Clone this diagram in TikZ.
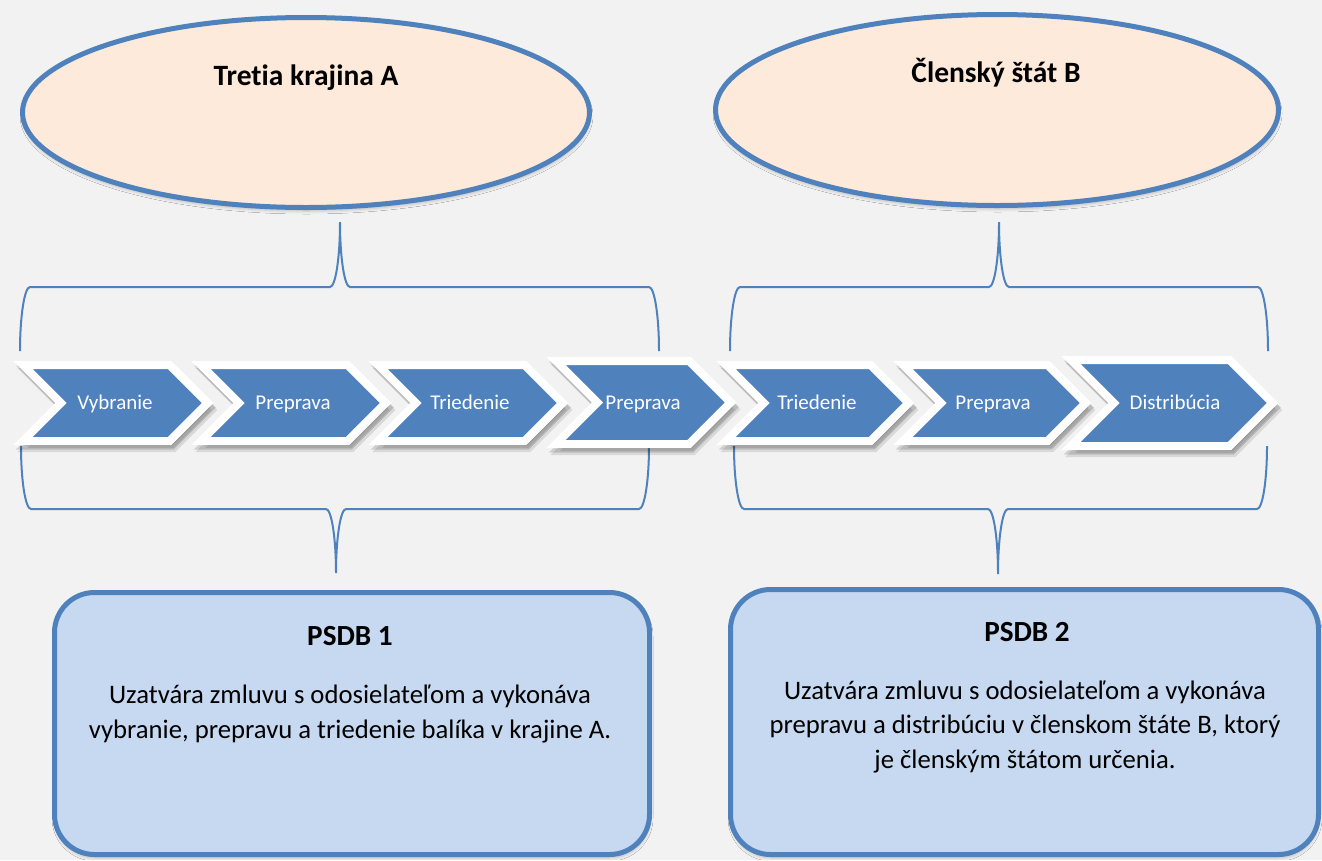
\documentclass[tikz,border=0pt]{standalone}
\usepackage{fontspec}
\setmainfont{Carlito}[Ligatures=NoCommon]
\usetikzlibrary{shapes.geometric,shadows.blur}
\definecolor{bgc}{HTML}{F2F2F2}
\definecolor{accent}{HTML}{4F81BD}
\definecolor{peach}{HTML}{FDEADA}
\definecolor{paleblue}{HTML}{C6D9F1}
\tikzset{
  softshadow/.style={blur shadow={shadow xshift=0.5pt, shadow yshift=-3.5pt, shadow blur radius=3pt, shadow opacity=22}},
  region/.style={ellipse, draw=accent, line width=5pt, fill=peach, inner sep=0pt, softshadow},
  regiontitle/.style={font=\fontsize{29.5}{34}\selectfont\bfseries, anchor=base, inner sep=0pt},
  provider/.style={rectangle, rounded corners=40pt, draw=accent, line width=5pt, fill=paleblue, inner sep=0pt, softshadow},
  provtitle/.style={font=\fontsize{29.2}{34}\selectfont\bfseries, anchor=base, inner sep=0pt},
  provline/.style={font=\fontsize{26.7}{34}\selectfont, anchor=base, inner sep=0pt},
  chevshape/.style={fill=accent, draw=white, line width=8pt, miter limit=10},
  chevshade/.style={fill=black, draw=black, line width=8pt, miter limit=10},
  chevtext/.style={text=white, font=\fontsize{21}{24}\selectfont, anchor=base, inner sep=0pt},
  bracket/.style={draw=accent, line width=2pt},
}
% chevron outline: cx, cy, half width, half height
\newcommand{\chevpath}[4]{({#1-#3},{#2-#4}) -- ({#1+#3-#4},{#2-#4}) -- ({#1+#3},{#2})
    -- ({#1+#3-#4},{#2+#4}) -- ({#1-#3},{#2+#4}) -- ({#1-#3+#4},{#2}) -- cycle}
% #1 name, #2 cx, #3 cy, #4 half width, #5 half height, #6 text x, #7 text
\newcommand{\chevron}[7]{%
  \path[chevshade, opacity=0.10] \chevpath{#2+4}{#3+7}{#4}{#5};
  \path[chevshade, opacity=0.14] \chevpath{#2+2.5}{#3+4.5}{#4}{#5};
  \path[chevshape] \chevpath{#2}{#3}{#4}{#5};
  \node[chevtext] (#1) at ({#6},409) {#7};}
\begin{document}
\begin{tikzpicture}[x=1pt,y=-1pt]
\path[fill=bgc] (0,0) rectangle (1322,860);
\useasboundingbox (0,0) rectangle (1322,860);

% regions
\node[region, minimum width=567pt, minimum height=190pt] (ellA) at (306,112.5) {};
\node[regiontitle] (titA) at (306,85) {Tretia krajina A};
\node[region, minimum width=563pt, minimum height=191pt] (ellB) at (997,110) {};
\node[regiontitle] (titB) at (996,82) {Členský štát B};

% brackets
\coordinate (tipTA) at (340,222);
\coordinate (tipTB) at (999,222);
\coordinate (tipBA) at (336,573);
\coordinate (tipBB) at (998,574);
\draw[bracket] (20,351) .. controls (20,316) and (24.5,287) .. (30,287) -- (330,287)
  .. controls (335.5,287) and (340,258) .. (tipTA) .. controls (340,258) and (344.5,287) .. (350,287)
  -- (649,287) .. controls (654.5,287) and (659,316) .. (659,351);
\draw[bracket] (730,351) .. controls (730,316) and (734.5,287) .. (740,287) -- (989,287)
  .. controls (994.5,287) and (999,258) .. (tipTB) .. controls (999,258) and (1003.5,287) .. (1009,287)
  -- (1258,287) .. controls (1263.5,287) and (1268,316) .. (1268,351);
\draw[bracket] (21,446) .. controls (21,481) and (25.5,509) .. (31,509) -- (326,509)
  .. controls (331.5,509) and (336,538) .. (tipBA) .. controls (336,538) and (340.5,509) .. (346,509)
  -- (639,509) .. controls (644.5,509) and (649,481) .. (649,446);
\draw[bracket] (734,446) .. controls (734,481) and (738.5,509) .. (744,509) -- (988,509)
  .. controls (993.5,509) and (998,538) .. (tipBB) .. controls (998,538) and (1002.5,509) .. (1008,509)
  -- (1257,509) .. controls (1262.5,509) and (1267,481) .. (1267,446);

% process chevrons
\chevron{s1}{115.3}{403}{92.3}{38}{115}{Vybranie}
\chevron{s2}{293.3}{403}{92.3}{38}{293}{Preprava}
\chevron{s3}{470.3}{403}{92.3}{38}{470}{Triedenie}
\chevron{s5}{817.3}{403}{91.3}{38}{817}{Triedenie}
\chevron{s6}{994.3}{403}{91.3}{38}{993}{Preprava}
\chevron{s4}{643.3}{402.5}{87.3}{41.5}{643}{Preprava}
\chevron{s7}{1171.8}{403}{100.8}{43}{1175}{Distribúcia}

% providers
\node[provider, minimum width=595pt, minimum height=262pt] (boxA) at (352,723.5) {};
\node[provtitle] (pA) at (350,645) {PSDB 1};
\node[provline] (a1) at (350,703) {Uzatvára zmluvu s odosielateľom a vykonáva};
\node[provline] (a2) at (350,738) {vybranie, prepravu a triedenie balíka v krajine A.};

\node[provider, minimum width=588pt, minimum height=265pt] (boxB) at (1024.5,722) {};
\node[provtitle] (pB) at (1027,641) {PSDB 2};
\node[provline] (b1) at (1025,699) {Uzatvára zmluvu s odosielateľom a vykonáva};
\node[provline] (b2) at (1025,733) {prepravu a distribúciu v členskom štáte B, ktorý};
\node[provline] (b3) at (1025,768) {je členským štátom určenia.};
\end{tikzpicture}
\end{document}
